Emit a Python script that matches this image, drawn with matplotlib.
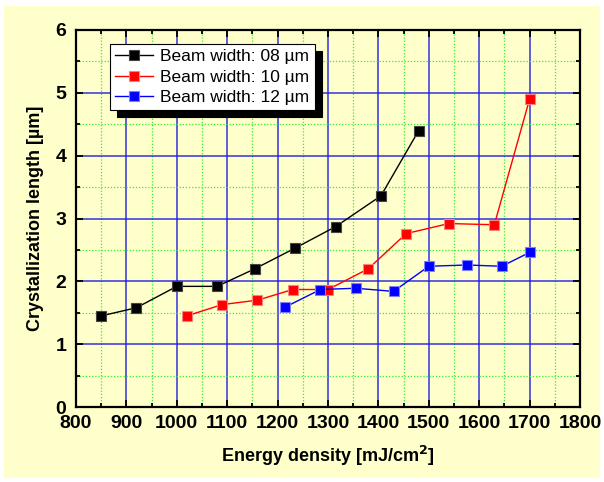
import matplotlib
matplotlib.use("Agg")
import matplotlib.pyplot as plt
from matplotlib.patches import Rectangle
from matplotlib.ticker import MultipleLocator

plt.rcParams['font.family'] = ['Liberation Sans', 'DejaVu Sans']

x08 = [850, 920, 1000, 1080, 1155, 1235, 1315, 1405, 1480]
y08 = [1.45, 1.58, 1.92, 1.92, 2.20, 2.53, 2.87, 3.36, 4.40]
x10 = [1020, 1090, 1160, 1230, 1300, 1380, 1455, 1540, 1630, 1700]
y10 = [1.45, 1.63, 1.70, 1.87, 1.87, 2.20, 2.76, 2.92, 2.90, 4.90]
x12 = [1215, 1285, 1355, 1430, 1500, 1575, 1645, 1700]
y12 = [1.59, 1.87, 1.89, 1.84, 2.24, 2.26, 2.24, 2.46]
labels = ["Beam width: 08 µm", "Beam width: 10 µm", "Beam width: 12 µm"]

bg = '#FFFFCC'
fig = plt.figure(figsize=(6.04, 4.82), dpi=100, facecolor='white')
fig.patches.append(Rectangle((4/604, 4/482), 596/604, 472/482, transform=fig.transFigure,
                             facecolor=bg, edgecolor='none', zorder=-10))
ax = fig.add_axes([76/604, 1-407/482, (580-76)/604, (407-30)/482])
ax.set_facecolor(bg)

ax.set_xlim(800, 1800)
ax.set_ylim(0, 6)
ax.xaxis.set_major_locator(MultipleLocator(100))
ax.xaxis.set_minor_locator(MultipleLocator(50))
ax.yaxis.set_major_locator(MultipleLocator(1))
ax.yaxis.set_minor_locator(MultipleLocator(0.5))
ax.grid(which='major', color='#2020E0', linewidth=1.2, linestyle='-', alpha=0.85)
ax.grid(which='minor', color='#33EE33', linewidth=0.9, linestyle=(0, (1, 1.5)))
ax.set_axisbelow(True)

for s in ax.spines.values():
    s.set_linewidth(1.6)
ax.tick_params(which='both', direction='in', top=True, right=True, width=1.3)
ax.tick_params(which='major', length=5, labelsize=14)
ax.tick_params(axis='x', which='major', pad=6)
ax.tick_params(axis='y', which='major', pad=7)
ax.tick_params(which='minor', length=3)
for lab in ax.get_xticklabels() + ax.get_yticklabels():
    lab.set_fontweight('bold')

kw = dict(marker='s', markersize=7.5, linewidth=1.0, markeredgewidth=0.8)
ax.plot(x08, y08, color='black', markeredgecolor='#444444', label=labels[0], **kw)
ax.plot(x10, y10, color='red', markeredgecolor='#FF8080', label=labels[1], **kw)
ax.plot(x12, y12, color='blue', markeredgecolor='#8080FF', label=labels[2], **kw)

ax.set_xlabel('Energy density [mJ/cm$^\\mathbf{2}$]', fontsize=13, fontweight='bold', labelpad=8)
ax.set_ylabel('Crystallization length [µm]', fontsize=13, fontweight='bold', labelpad=8)

leg = ax.legend(loc='upper left', bbox_to_anchor=(34/504, 0.963), borderaxespad=0,
                fancybox=False, shadow={'color': 'black', 'alpha': 1.0, 'ox': 5, 'oy': -5},
                frameon=True, edgecolor='black', facecolor='white', framealpha=1.0,
                fontsize=12.5, handlelength=2.2, borderpad=0.3, labelspacing=0.3, handletextpad=0.4)
leg.get_frame().set_linewidth(0.8)

fig.savefig('out.png', dpi=100, facecolor='white')
